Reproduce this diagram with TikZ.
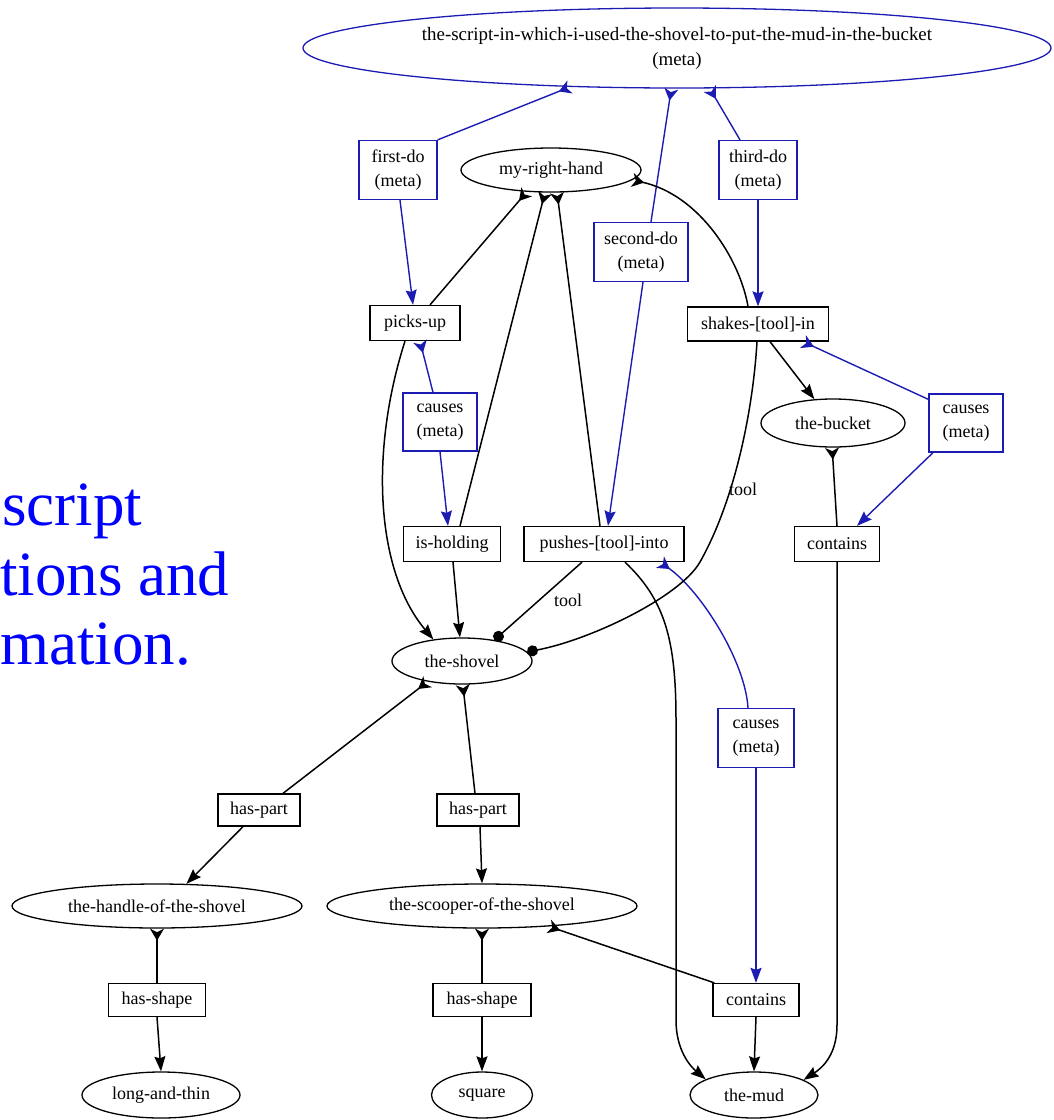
\documentclass[tikz,border=0pt]{standalone}
\usepackage{fontspec}
\setmainfont{Liberation Serif}
\usetikzlibrary{arrows.meta,shapes.geometric}
\definecolor{metablue}{RGB}{28,28,178}
\definecolor{textblue}{RGB}{0,0,255}

\begin{document}
\begin{tikzpicture}[x=1pt,y=-1pt,
  every node/.style={font=\fontsize{18}{24}\selectfont, inner sep=0pt},
  ent/.style={ellipse, draw=black, line width=1.3pt},
  rel/.style={rectangle, draw=black, line width=1.3pt},
  metabox/.style={rectangle, draw=metablue, line width=1.3pt, align=center},
  link/.style={line width=1.5pt, draw=black},
  metalink/.style={line width=1.4pt, draw=metablue},
  tip/.style={-{Stealth[length=15pt,width=11pt,inset=2pt]}},
  tail/.style={{Stealth[reversed,length=12pt,width=14pt,inset=3.5pt]}-},
  dot/.style={-{Circle[length=11pt]}},
  lbl/.style={font=\fontsize{18}{22}\selectfont},
  big/.style={font=\fontsize{63}{70}\selectfont, text=textblue, anchor=base west},
]
\useasboundingbox (0,0) rectangle (1054,1120);
\clip (0,0) rectangle (1054,1120);

% side caption
\node[big] (cap1) at (2,525) {script};
\node[big] (cap2) at (0,595) {tions and};
\node[big] (cap3) at (0,664) {mation.};

% script frame
\node[ellipse, draw=metablue, line width=1.3pt, minimum width=748pt, minimum height=80pt,
      align=center, font=\fontsize{18.9}{25}\selectfont] (script) at (677,48)
  {the-script-in-which-i-used-the-shovel-to-put-the-mud-in-the-bucket\\(meta)};

% meta steps
\node[metabox, minimum width=78pt, minimum height=59pt] (firstdo) at (398,170) {first-do\\(meta)};
\node[metabox, minimum width=94pt, minimum height=59pt] (seconddo) at (641,252) {second-do\\(meta)};
\node[metabox, minimum width=78pt, minimum height=59pt] (thirddo) at (758,170) {third-do\\(meta)};
\node[metabox, minimum width=74pt, minimum height=58pt] (causesL) at (440,422) {causes\\(meta)};
\node[metabox, minimum width=74pt, minimum height=58pt] (causesR) at (966,423) {causes\\(meta)};
\node[metabox, minimum width=76pt, minimum height=59pt] (causesLow) at (756,738) {causes\\(meta)};

% entities
\node[ent, minimum width=180pt, minimum height=44pt] (hand) at (551,170) {my-right-hand};
\node[ent, minimum width=144pt, minimum height=48pt] (bucket) at (833,423) {the-bucket};
\node[ent, minimum width=140pt, minimum height=46pt] (shovel) at (462,661) {the-shovel};
\node[ent, minimum width=290pt, minimum height=44pt] (handle) at (157,906) {the-handle-of-the-shovel};
\node[ent, minimum width=310pt, minimum height=44pt] (scooper) at (482,906) {the-scooper-of-the-shovel};
\node[ent, minimum width=158pt, minimum height=46pt] (longthin) at (161,1095) {long-and-thin};
\node[ent, minimum width=101pt, minimum height=46pt] (square) at (482,1095) {square};
\node[ent, minimum width=128pt, minimum height=46pt] (mud) at (754,1095) {the-mud};

% relations
\node[rel, minimum width=90pt, minimum height=35pt] (picksup) at (415,323) {picks-up};
\node[rel, minimum width=141pt, minimum height=34pt] (shakes) at (758,324) {shakes-[tool]-in};
\node[rel, minimum width=97pt, minimum height=35pt] (isholding) at (452,544) {is-holding};
\node[rel, minimum width=160pt, minimum height=35pt] (pushes) at (604,544) {pushes-[tool]-into};
\node[rel, minimum width=85pt, minimum height=35pt] (containsU) at (837,544) {contains};
\node[rel, minimum width=82pt, minimum height=32pt] (haspartL) at (259,810) {has-part};
\node[rel, minimum width=82pt, minimum height=32pt] (haspartR) at (478,810) {has-part};
\node[rel, minimum width=97pt, minimum height=33pt] (hasshapeL) at (157,1000) {has-shape};
\node[rel, minimum width=98pt, minimum height=33pt] (hasshapeR) at (482,1000) {has-shape};
\node[rel, minimum width=86pt, minimum height=33pt] (containsL) at (756,1000) {contains};

% meta links
\draw[metalink, tail] (script.200) -- (firstdo.north east);
\draw[metalink, tail] (script.262) -- ([xshift=10pt]seconddo.north);
\draw[metalink, tail] (script.309) -- ([xshift=-18pt]thirddo.north);
\draw[metalink, tip] ([xshift=2pt]firstdo.south) -- ([xshift=-2pt]picksup.north);
\draw[metalink, tip] ([xshift=2pt]seconddo.south) -- ([xshift=4pt]pushes.north);
\draw[metalink, tip] (thirddo.south) -- (shakes.north);
\draw[metalink, tail] ([xshift=5pt]picksup.south) -- ([xshift=-7pt]causesL.north);
\draw[metalink, tip] (causesL.south) -- ([xshift=-4pt]isholding.north);
\draw[metalink, tail] ([xshift=45pt]shakes.south) -- ([yshift=-6pt]causesR.north west);
\draw[metalink, tip] ([xshift=-33pt]causesR.south) -- ([xshift=20pt]containsU.north);
\draw[metalink, tail] ([xshift=56pt]pushes.south) .. controls (700,590) and (745,660) .. ([xshift=-8pt]causesLow.north);
\draw[metalink, tip] (causesLow.south) -- (containsL.north);

% agent links
\draw[link, tail] (hand.222) -- ([xshift=15pt]picksup.north);
\draw[link, tail] (hand.255) -- ([xshift=8pt]isholding.north);
\draw[link, tail] (hand.285) -- ([xshift=-4pt]pushes.north);
\draw[link, tail] (hand.353) .. controls (700,195) and (740,260) .. ([xshift=-10pt]shakes.north);

% object links
\draw[link, tip] ([xshift=-10pt]picksup.south) .. controls (370,450) and (375,570) .. (shovel.143);
\draw[link, tip] ([xshift=1pt]isholding.south) -- (shovel.95);
\draw[link, dot] ([xshift=-22pt]pushes.south) -- (shovel.33);
\node[lbl] (tool1) at (568,600) {tool};
\draw[link, dot] ([xshift=-1pt]shakes.south) .. controls (753,410) and (735,500) .. (700,562)
  .. controls (680,597) and (590,640) .. (shovel.8);
\node[lbl, anchor=west] (tool2) at (729,489) {tool};
\draw[link, tip] ([xshift=12pt]shakes.south) -- (bucket.128);
\draw[link, tail] (bucket.268) -- (containsU.north);
\draw[link, tip] ([xshift=21pt]pushes.south) .. controls (665,600) and (676,640) .. (676,720)
  -- (676,1020) .. controls (676,1050) and (690,1066) .. (mud.162);
\draw[link, tip] (containsU.south) -- (837,1025) .. controls (837,1055) and (822,1068) .. (mud.17);

% part and shape links
\draw[link, tail] (shovel.211) -- ([xshift=24pt]haspartL.north);
\draw[link, tip] ([xshift=-16pt]haspartL.south) -- (handle.37);
\draw[link, tail] (shovel.272) -- ([xshift=-3pt]haspartR.north);
\draw[link, tip] ([xshift=2pt]haspartR.south) -- (scooper.90);
\draw[link, tail] (handle.270) -- (hasshapeL.north);
\draw[link, tip] (hasshapeL.south) -- (longthin.north);
\draw[link, tail] (scooper.270) -- (hasshapeR.north);
\draw[link, tip] (hasshapeR.south) -- (square.north);
\draw[link, tail] (scooper.343) -- ([xshift=2pt]containsL.north west);
\draw[link, tip] (containsL.south) -- (mud.north);
\end{tikzpicture}
\end{document}
